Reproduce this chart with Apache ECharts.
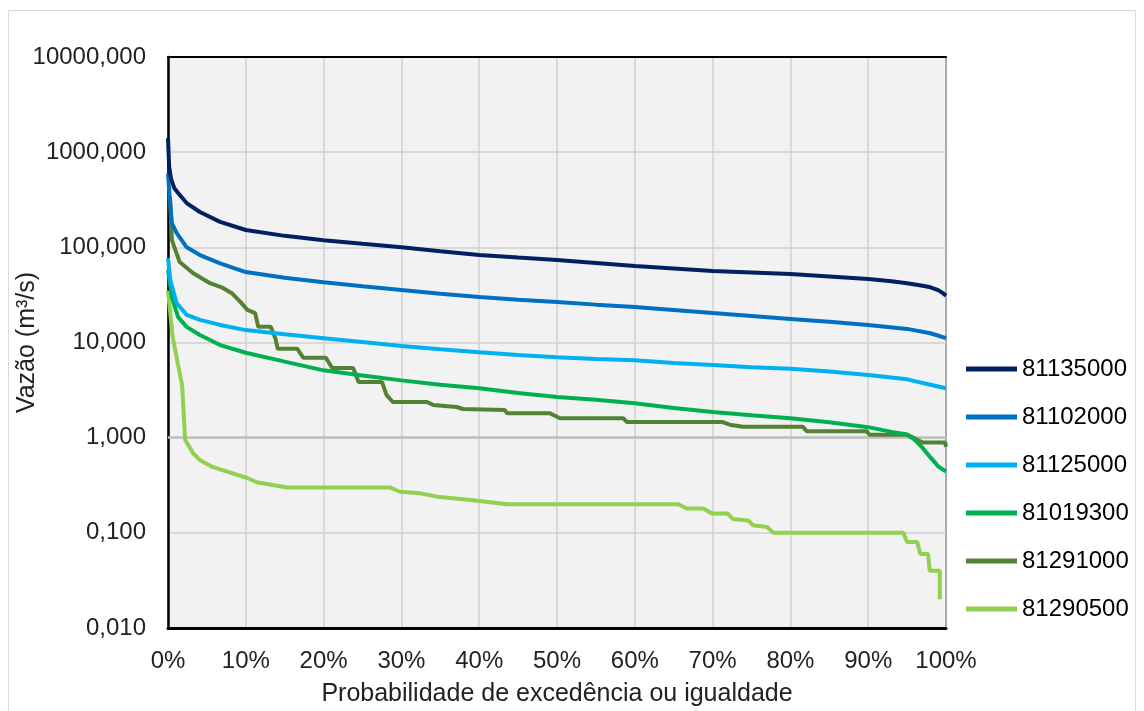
<!DOCTYPE html>
<html>
<head>
<meta charset="utf-8">
<script src="https://cdn.jsdelivr.net/npm/echarts@6/dist/echarts.min.js"></script>
<style>
  html, body { margin: 0; padding: 0; background: #fff; }
  #chart { width: 1144px; height: 711px; }
</style>
</head>
<body>
<div id="chart"></div>
<script type="text/javascript">

// estações (legenda)
var stations = ['81135000', '81102000', '81125000', '81019300', '81291000', '81290500'];
var colors = ['#002060', '#0070C0', '#00B0F0', '#00B050', '#548235', '#92D050'];

// curvas de permanência: [probabilidade %, vazão m3/s]
var s81135000 = [[0,1400],[0.15,700],[0.4,520],[0.8,420],[1.3,373],[2.4,292],[4.1,235],[6.7,185],[10,152],[15,132],[20,119],[25,109],[30,100],[35,91],[40,83],[45,78],[50,73.6],[55,68.5],[60,63.7],[65,60],[70,56.4],[75,54.5],[80,52.5],[85,49.5],[90,46.5],[93,44],[95,42],[97,39.5],[98,38],[99,35.5],[99.6,33],[100,31]];
var s81102000 = [[0,600],[0.2,350],[0.5,180],[1.1,142],[2.4,100],[4.1,83],[6.7,68],[10,55],[15,48],[20,43],[25,39],[30,35.6],[35,32.5],[40,30],[45,28.2],[50,26.7],[55,25],[60,23.6],[65,22],[70,20.4],[75,19],[80,17.7],[85,16.5],[90,15.3],[95,13.9],[98,12.5],[100,11.1]];
var s81125000 = [[0,77],[0.3,45],[1.1,26],[2.4,19.5],[4.1,17.3],[6.7,15.3],[10,13.5],[15,12.2],[20,11.1],[25,10.1],[30,9.2],[35,8.5],[40,7.9],[45,7.4],[50,7.0],[55,6.7],[60,6.5],[65,6.1],[70,5.8],[75,5.5],[80,5.3],[85,4.95],[90,4.56],[95,4.1],[98,3.6],[100,3.3]];
var s81019300 = [[0,58],[0.5,30],[1.3,18.5],[2.4,14.6],[4.1,12],[6.7,9.4],[10,7.8],[15,6.3],[20,5.1],[25,4.5],[30,4.0],[35,3.6],[40,3.3],[45,2.95],[50,2.67],[55,2.5],[60,2.3],[65,2.05],[70,1.86],[75,1.72],[80,1.6],[85,1.45],[90,1.29],[93,1.15],[95,1.08],[96,0.95],[97,0.78],[98,0.62],[99,0.5],[100,0.44]];
var s81291000 = [[0,340],[0.26,338],[0.5,119],[1.5,70],[3.2,53.7],[5.4,42],[6.9,38],[8.2,33],[9.3,26.7],[10.2,22],[11.2,20.4],[11.6,14.6],[13.2,14.6],[13.8,11.1],[14.1,8.6],[16.6,8.6],[17.4,6.9],[20.3,6.9],[21.1,5.4],[23.8,5.4],[24.5,3.85],[27.5,3.85],[28.1,2.8],[28.9,2.37],[33.3,2.37],[34.1,2.2],[37.1,2.1],[37.9,2.0],[43.3,1.95],[43.6,1.8],[49.1,1.8],[50.4,1.6],[58.5,1.6],[59,1.46],[71.3,1.46],[72.2,1.37],[73.9,1.3],[81.6,1.3],[82.1,1.17],[89.8,1.17],[90.2,1.07],[95,1.07],[95.8,1.0],[97,0.89],[99.9,0.89],[100,0.8]];
var s81290500 = [[0,35],[0.3,20],[0.6,11.4],[1.3,5.8],[1.8,3.6],[1.9,2.7],[2.2,0.95],[2.4,0.92],[3.2,0.69],[4.1,0.58],[5.8,0.49],[10.2,0.377],[11.4,0.34],[15.3,0.3],[28.5,0.3],[29.8,0.27],[32.4,0.26],[34.6,0.24],[39.2,0.22],[43.6,0.2],[65.6,0.2],[66.7,0.18],[68.8,0.18],[69.9,0.16],[71.9,0.16],[72.6,0.14],[74.6,0.135],[75.2,0.12],[77,0.115],[77.8,0.1],[94.5,0.1],[95,0.08],[96.3,0.08],[96.7,0.06],[97.7,0.06],[97.9,0.04],[99.2,0.04],[99.2,0.02]];

var seriesData = [s81135000, s81102000, s81125000, s81019300, s81291000, s81290500];

var chart = echarts.init(document.getElementById('chart'));

var font = "'Liberation Sans', Arial, sans-serif";

var series = [];
for (var i = 0; i < stations.length; i++) {
    series.push({
        name: stations[i],
        type: 'line',
        data: seriesData[i],
        symbol: 'none',
        showSymbol: false,
        smooth: false,
        z: 10 - i,
        lineStyle: { color: colors[i], width: 4 },
        itemStyle: { color: colors[i] }
    });
}
// linha de 1,000 (eixo horizontal do Excel)
series[0].markLine = {
    silent: true,
    symbol: 'none',
    label: { show: false },
    lineStyle: { color: '#BFBFBF', width: 2.5, type: 'solid' },
    z: 1,
    data: [{ yAxis: 1 }]
};

var option = {
    backgroundColor: '#fff',
    animation: false,
    textStyle: { fontFamily: font },
    graphic: [{
        type: 'rect',
        shape: { x: 8.5, y: 10.5, width: 1127, height: 720 },
        style: { fill: 'none', stroke: '#D9D9D9', lineWidth: 1 },
        silent: true
    }],
    grid: {
        left: 168, right: 198, top: 57, bottom: 83,
        outerBoundsMode: 'none',
        containLabel: false,
        show: true,
        backgroundColor: '#F2F2F2',
        borderColor: '#000',
        borderWidth: 1.5
    },
    legend: {
        orient: 'vertical',
        left: 961,
        top: 352,
        icon: 'rect',
        itemWidth: 51,
        itemHeight: 5,
        itemGap: 24,
        textStyle: { fontFamily: font, fontSize: 24, color: '#000' },
        data: stations
    },
    xAxis: [{
        type: 'value',
        min: 0,
        max: 100,
        interval: 10,
        name: 'Probabilidade de excedência ou igualdade',
        nameLocation: 'middle',
        nameGap: 54,
        nameMoveOverlap: false,
        nameTextStyle: { fontFamily: font, fontSize: 25, color: '#222' },
        axisLine: { show: true, lineStyle: { color: '#000', width: 3 } },
        axisTick: { show: false },
        axisLabel: { formatter: '{value}%', fontSize: 24, color: '#222', margin: 21 },
        splitLine: { show: true, lineStyle: { color: '#D0D0D0', width: 1.5 } }
    }, {
        type: 'value',
        position: 'top',
        min: 0,
        max: 100,
        axisLine: { show: true, lineStyle: { color: '#000', width: 2 } },
        axisTick: { show: false },
        axisLabel: { show: false },
        splitLine: { show: false }
    }],
    yAxis: [{
        type: 'log',
        logBase: 10,
        min: 0.01,
        max: 10000,
        name: 'Vazão (m³/s)',
        nameLocation: 'middle',
        nameGap: 128,
        nameMoveOverlap: false,
        nameTextStyle: { fontFamily: font, fontSize: 25, color: '#222' },
        axisLine: { show: true, lineStyle: { color: '#BFBFBF', width: 2 } },
        axisTick: { show: false },
        axisLabel: {
            fontSize: 24,
            color: '#222',
            margin: 22,
            formatter: function (v) { return v.toFixed(3).replace('.', ','); }
        },
        splitLine: { show: true, lineStyle: { color: '#D0D0D0', width: 1.5 } }
    }, {
        type: 'log',
        logBase: 10,
        position: 'right',
        min: 0.01,
        max: 10000,
        axisLine: { show: true, lineStyle: { color: '#000', width: 2.5 } },
        axisTick: { show: false },
        axisLabel: { show: false },
        splitLine: { show: false }
    }],
    series: series
};

chart.setOption(option);
</script>
</body>
</html>
